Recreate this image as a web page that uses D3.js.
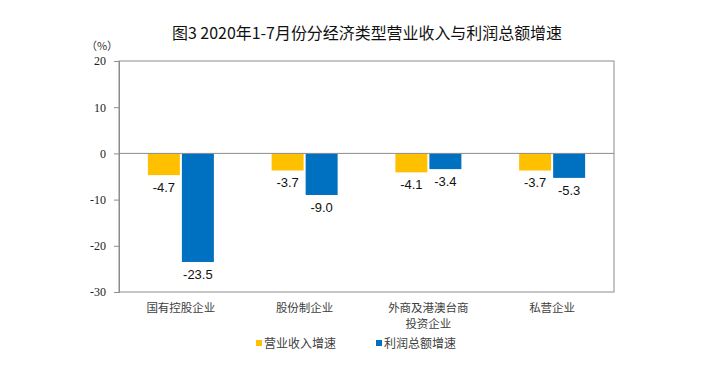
<!DOCTYPE html>
<html><head><meta charset="utf-8">
<script src="https://cdn.jsdelivr.net/npm/d3@7"></script>
<style>body{margin:0;background:#fff}svg{display:block}</style>
</head><body>
<svg id="c" width="709" height="384"></svg>
<script>
const categories = [["国有控股企业"], ["股份制企业"], ["外商及港澳台商", "投资企业"], ["私营企业"]];
const seriesNames = ["营业收入增速", "利润总额增速"];
const revenue = [-4.7, -3.7, -4.1, -3.7];
const profit = [-23.5, -9.0, -3.4, -5.3];
const yTicks = [20, 10, 0, -10, -20, -30];
const colors = ["#FFC000", "#0070C0"];

const fmt1 = d => d3.format(".1f")(d).replace("\u2212", "-");
const fmt0 = d => String(d);

const svg = d3.select("#c");
const L = 119, R = 614, T = 61, B = 292;
const y = d3.scaleLinear().domain([-30, 20]).range([B, T]);
const x = d3.scaleBand().domain(d3.range(categories.length)).range([L, R]);
const inner = d3.scaleBand().domain([0, 1]).range([-33, 33]).paddingInner(0.06);

// title
svg.append("text").attr("x", 172).attr("y", 39)
  .attr("font-family", "Noto Sans CJK SC").attr("font-size", 16).attr("font-weight", 400).attr("fill", "#111")
  .attr("textLength", 390).attr("lengthAdjust", "spacingAndGlyphs")
  .text("图3 2020年1-7月份分经济类型营业收入与利润总额增速");

svg.append("text").attr("x", 102).attr("y", 50).attr("text-anchor", "middle")
  .attr("font-family", "Noto Sans CJK SC").attr("font-size", 11).attr("fill", "#333")
  .text("（%）");

// frame
svg.append("rect").attr("x", L).attr("y", T).attr("width", R - L).attr("height", B - T)
  .attr("fill", "none").attr("stroke", "#8c8c8c").attr("stroke-width", 1);

// y axis
const yAxis = d3.axisLeft(y).tickValues(yTicks).tickSize(5).tickPadding(8).tickFormat(fmt0);
const ga = svg.append("g").attr("transform", `translate(${L},0)`).call(yAxis);
ga.select(".domain").attr("stroke", "#8c8c8c");
ga.selectAll(".tick line").attr("stroke", "#8c8c8c");
ga.selectAll(".tick text").attr("font-family", "Liberation Serif").attr("font-size", 12).attr("fill", "#222");

// bars
const data = [revenue, profit];
data.forEach((vals, si) => {
  const g = svg.append("g");
  g.selectAll("rect").data(vals).join("rect")
    .attr("x", (d, i) => x(i) + x.bandwidth() / 2 + inner(si))
    .attr("width", inner.bandwidth())
    .attr("y", d => Math.min(y(d), y(0)))
    .attr("height", d => Math.abs(y(d) - y(0)))
    .attr("fill", colors[si]);
  g.selectAll("text").data(vals).join("text")
    .attr("x", (d, i) => x(i) + x.bandwidth() / 2 + inner(si) + inner.bandwidth() / 2)
    .attr("y", d => y(d) + 17)
    .attr("text-anchor", "middle")
    .attr("font-family", "Liberation Sans").attr("font-size", 13).attr("fill", "#111")
    .text(fmt1);
});

// zero line
svg.append("line").attr("x1", L).attr("x2", R).attr("y1", y(0)).attr("y2", y(0))
  .attr("stroke", "#8c8c8c").attr("stroke-width", 1);

// category labels
categories.forEach((lines, i) => {
  lines.forEach((ln, j) => {
    svg.append("text").attr("text-anchor", "middle")
      .attr("font-family", "Noto Sans CJK SC").attr("font-size", 11.5).attr("fill", "#404040")
      .attr("x", x(i) + x.bandwidth() / 2).attr("y", 312 + j * 16).text(ln);
  });
});

// legend
const legX = [256, 376];
seriesNames.forEach((n, i) => {
  svg.append("rect").attr("x", legX[i]).attr("y", 340).attr("width", 6).attr("height", 6).attr("fill", colors[i]);
  svg.append("text").attr("x", legX[i] + 8).attr("y", 348)
    .attr("font-family", "Noto Sans CJK SC").attr("font-size", 12).attr("fill", "#404040").text(n);
});
</script>
</body></html>
